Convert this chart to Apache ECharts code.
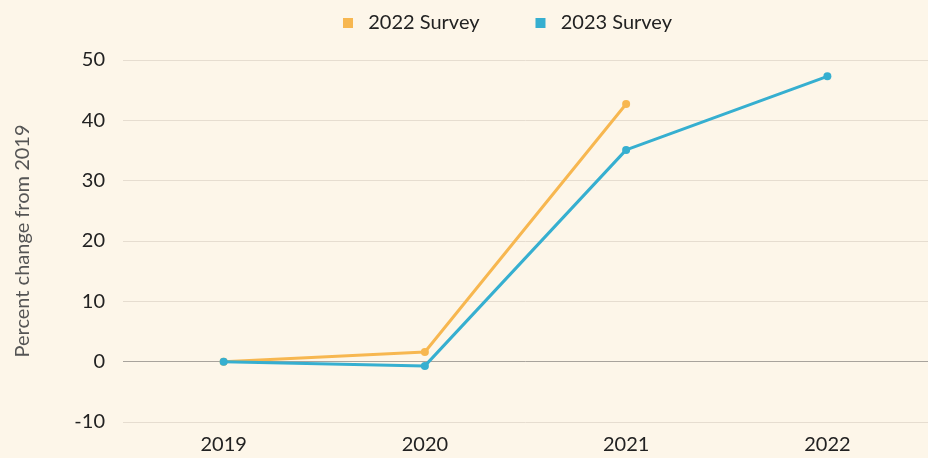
<!DOCTYPE html>
<html>
<head>
<meta charset="utf-8">
<script src="https://cdn.jsdelivr.net/npm/echarts@6/dist/echarts.min.js"></script>
<style>
  html, body { margin: 0; padding: 0; background: #fdf6e9; }
  #chart { width: 928px; height: 458px; }
</style>
</head>
<body>
<div id="chart"></div>
<script>
var years = ['2019', '2020', '2021', '2022'];
var survey2022 = [0, 1.6, 42.7, null];
var survey2023 = [0, -0.7, 35.1, 47.3];
var yTicks = { min: -10, max: 50, interval: 10 };

var chart = echarts.init(document.getElementById('chart'));
var font = 'Lato, "Noto Sans", sans-serif';

var option = {
  backgroundColor: '#fdf6e9',
  textStyle: { fontFamily: font },
  legend: {
    top: 8,
    left: 338,
    itemWidth: 10,
    itemHeight: 10,
    itemGap: 56,
    icon: 'rect',
    formatter: '  {name}',
    textStyle: { fontSize: 20, color: '#222', fontFamily: font },
    data: ['2022 Survey', '2023 Survey']
  },
  grid: { left: 123, width: 808, top: 60, bottom: 36 },
  xAxis: {
    type: 'category',
    data: years,
    boundaryGap: true,
    axisLine: { show: false },
    axisTick: { show: false },
    axisLabel: { fontSize: 20, color: '#222', margin: 13, fontFamily: font }
  },
  yAxis: {
    type: 'value',
    min: yTicks.min,
    max: yTicks.max,
    interval: yTicks.interval,
    name: 'Percent change from 2019',
    nameLocation: 'middle',
    nameGap: 90,
    nameTextStyle: { fontSize: 20, color: '#555', fontFamily: font },
    axisLine: { show: false },
    axisTick: { show: false },
    axisLabel: { fontSize: 20, color: '#222', margin: 18, fontFamily: font },
    splitLine: { lineStyle: { color: '#e6ddd0', width: 1 } }
  },
  series: [
    {
      name: '2022 Survey',
      type: 'line',
      data: survey2022,
      color: '#f7b750',
      symbol: 'circle',
      symbolSize: 8,
      lineStyle: { width: 3 },
      z: 2,
      markLine: {
        silent: true,
        symbol: 'none',
        label: { show: false },
        lineStyle: { color: '#a8a39c', type: 'solid', width: 1 },
        data: [{ yAxis: 0 }],
        z: 1
      }
    },
    {
      name: '2023 Survey',
      type: 'line',
      data: survey2023,
      color: '#36afd0',
      symbol: 'circle',
      symbolSize: 8,
      lineStyle: { width: 3 },
      z: 3
    }
  ]
};
chart.setOption(option);
</script>
</body>
</html>
